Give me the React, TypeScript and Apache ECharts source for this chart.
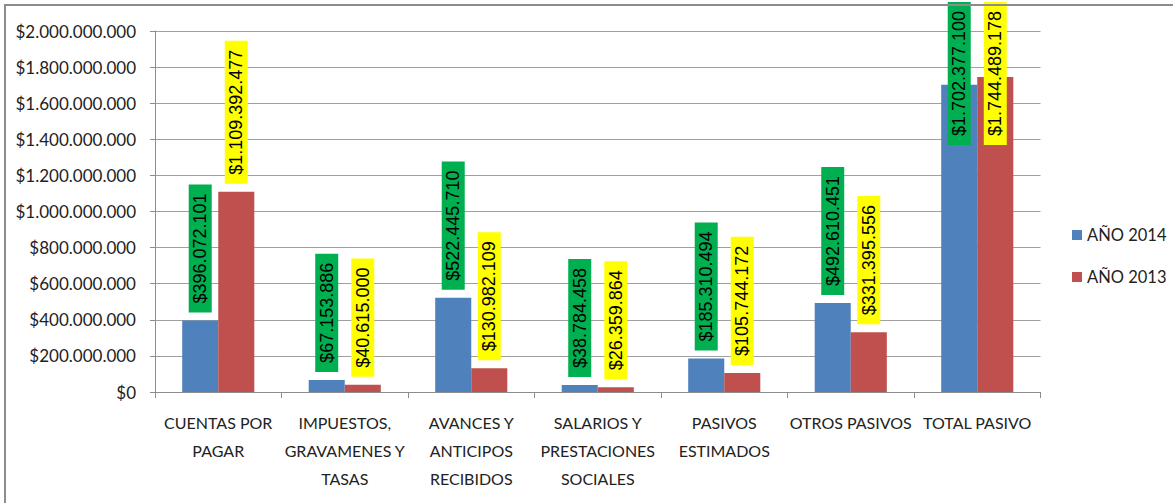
import React, { useEffect, useRef } from "react";
import * as echarts from "echarts";

const categories = [
  "CUENTAS POR\nPAGAR",
  "IMPUESTOS,\nGRAVAMENES Y\nTASAS",
  "AVANCES Y\nANTICIPOS\nRECIBIDOS",
  "SALARIOS Y\nPRESTACIONES\nSOCIALES",
  "PASIVOS\nESTIMADOS",
  "OTROS PASIVOS",
  "TOTAL PASIVO",
];
const values2014 = [396072101, 67153886, 522445710, 38784458, 185310494, 492610451, 1702377100];
const values2013 = [1109392477, 40615000, 130982109, 26359864, 105744172, 331395556, 1744489178];
const seriesNames = ["AÑO 2014", "AÑO 2013"];
const yMin = 0;
const yMax = 2000000000;
const yInterval = 200000000;

const money = (v: number) =>
  "$" + Math.round(v).toString().replace(/\B(?=(\d{3})+(?!\d))/g, ".");

export default function App() {
  const ref = useRef<HTMLDivElement>(null);
  useEffect(() => {
    document.body.style.margin = "0";
    const chart = echarts.init(ref.current!, null, { renderer: "svg" });
    const labelCfg = (bg: string) => ({
      show: true,
      position: "top",
      distance: 8,
      rotate: 90,
      align: "left",
      verticalAlign: "middle",
      fontFamily: "Liberation Sans",
      fontSize: 18,
      lineHeight: 21,
      color: "#000",
      backgroundColor: bg,
      padding: [1, 9, 1, 9],
      formatter: (p: any) => money(p.value),
    });
    const clamp = (params: any) => {
      const r = params.labelRect;
      if (r.y < 2) {
        return { x: r.x + r.width / 2, y: 2 + r.height };
      }
      return {};
    };
    chart.setOption({
      animation: false,
      textStyle: { fontFamily: "Lato" },
      grid: { left: 155, right: 132.5, top: 31, bottom: 111, outerBoundsMode: "none" },
      graphic: [
        {
          type: "rect",
          shape: { x: 5, y: 5, width: 1200, height: 600 },
          style: { fill: "none", stroke: "#8c8c8c", lineWidth: 2 },
          silent: true,
          z: 100,
        },
      ],
      legend: {
        data: seriesNames,
        orient: "vertical",
        left: 1072,
        top: 225,
        padding: 0,
        itemWidth: 10,
        itemHeight: 10,
        itemGap: 22,
        icon: "rect",
        textStyle: { fontFamily: "Lato", fontSize: 16.5, lineHeight: 20, color: "#222" },
      },
      xAxis: {
        type: "category",
        data: categories,
        axisLine: { lineStyle: { color: "#8c8c8c", width: 1 } },
        axisTick: { show: true, length: 6, interval: 0, lineStyle: { color: "#8c8c8c" } },
        axisLabel: {
          interval: 0,
          margin: 16,
          fontSize: 16,
          lineHeight: 28,
          color: "#222",
          fontFamily: "Lato",
        },
      },
      yAxis: {
        type: "value",
        min: yMin,
        max: yMax,
        interval: yInterval,
        axisLine: { show: true, lineStyle: { color: "#8c8c8c", width: 1 } },
        axisTick: { show: true, length: 5, lineStyle: { color: "#8c8c8c" } },
        splitLine: { show: true, lineStyle: { color: "#a0a0a0", width: 1 } },
        axisLabel: {
          margin: 19,
          fontSize: 17,
          color: "#222",
          fontFamily: "Lato",
          formatter: (v: number) => money(v),
        },
      },
      series: [
        {
          name: seriesNames[0],
          type: "bar",
          data: values2014,
          barGap: "0%",
          barCategoryGap: "43%",
          itemStyle: { color: "#4f81bd" },
          label: labelCfg("#00b050"),
          labelLayout: clamp,
        },
        {
          name: seriesNames[1],
          type: "bar",
          data: values2013,
          barGap: "0%",
          barCategoryGap: "43%",
          itemStyle: { color: "#c0504d" },
          label: labelCfg("#ffff00"),
          labelLayout: clamp,
        },
      ],
    });
    return () => chart.dispose();
  }, []);
  return <div ref={ref} style={{ width: 1173, height: 503 }} />;
}
